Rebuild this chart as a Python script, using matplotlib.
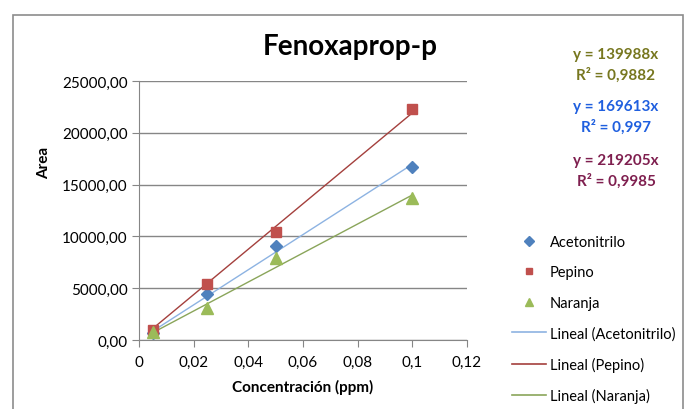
import matplotlib
matplotlib.use("Agg")
import matplotlib.pyplot as plt
import numpy as np
from matplotlib.ticker import FuncFormatter
from matplotlib.patches import Rectangle
from matplotlib.lines import Line2D

plt.rcParams['font.family'] = ['Lato', 'DejaVu Sans']

# Measured areas per concentration
conc = [0.005, 0.025, 0.05, 0.1]
acetonitrilo = [650, 4400, 9050, 16700]
pepino = [950, 5400, 10450, 22250]
naranja = [750, 3100, 7900, 13700]

# Trend-line slopes (forced through origin) and fit quality
slope_acet, r2_acet = 169613, "0,997"
slope_pep, r2_pep = 219205, "0,9985"
slope_nar, r2_nar = 139988, "0,9882"

x_ticks = [0, 0.02, 0.04, 0.06, 0.08, 0.1, 0.12]
y_ticks = [0, 5000, 10000, 15000, 20000, 25000]

fig = plt.figure(figsize=(6.86, 4.10), dpi=100)
fig.patch.set_facecolor("white")
fig.add_artist(Rectangle((13 / 686, -0.05), (683 - 13) / 686, 1.05 - 16 / 410,
                         transform=fig.transFigure, fill=False,
                         edgecolor="#8c8c8c", linewidth=1.2))

ax = fig.add_axes([139 / 686, 1 - 341 / 410, (467 - 139) / 686, (341 - 82) / 410])

c_acet, c_pep, c_nar = "#4F81BD", "#C0504D", "#9BBB59"
l_acet, l_pep, l_nar = "#8DB3E2", "#A4403D", "#8AA55A"

xf = np.array([conc[0], conc[-1]])
ax.plot(xf, slope_acet * xf, color=l_acet, lw=1.0, zorder=2)
ax.plot(xf, slope_pep * xf, color=l_pep, lw=1.0, zorder=2)
ax.plot(xf, slope_nar * xf, color=l_nar, lw=1.0, zorder=2)

ax.plot(conc, acetonitrilo, ls="none", marker="D", ms=6, color=c_acet, zorder=3)
ax.plot(conc, pepino, ls="none", marker="s", ms=7, color=c_pep, zorder=3)
ax.plot(conc, naranja, ls="none", marker="^", ms=8, color=c_nar, zorder=3)

ax.set_xlim(0, 0.12)
ax.set_ylim(0, 25000)
ax.set_xticks(x_ticks)
ax.set_yticks(y_ticks)
ax.xaxis.set_major_formatter(FuncFormatter(lambda v, p: ("%g" % round(v, 2)).replace(".", ",")))
ax.yaxis.set_major_formatter(FuncFormatter(lambda v, p: ("%.2f" % v).replace(".", ",")))
ax.grid(axis="y", color="#868686", lw=1.0)
ax.set_axisbelow(True)
for s in ["top", "right"]:
    ax.spines[s].set_visible(False)
ax.spines["left"].set_color("#868686")
ax.spines["bottom"].set_color("#868686")
ax.tick_params(axis="x", direction="out", length=5, color="#868686", labelsize=11, pad=6)
ax.tick_params(axis="y", direction="out", length=5, color="#868686", labelsize=11, pad=3)

fig.text(350 / 686, 1 - 47 / 410, "Fenoxaprop-p", ha="center", va="center",
         fontsize=20, fontweight="bold")
fig.text(44 / 686, 1 - 163 / 410, "Area", ha="center", va="center", rotation=90,
         fontsize=11, fontweight="bold")
fig.text(303 / 686, 1 - 387 / 410, "Concentración (ppm)", ha="center", va="center",
         fontsize=11, fontweight="bold")

eq_x = 616 / 686
for (k, r2, col, y1, y2) in [(slope_nar, r2_nar, "#77771F", 55, 75),
                             (slope_acet, r2_acet, "#1F5FDF", 107, 127),
                             (slope_pep, r2_pep, "#7F1F4F", 161, 181)]:
    fig.text(eq_x, 1 - y1 / 410, "y = %dx" % k, ha="center", va="center",
             fontsize=11, fontweight="bold", color=col)
    fig.text(eq_x, 1 - y2 / 410, "R² = %s" % r2, ha="center", va="center",
             fontsize=11, fontweight="bold", color=col)

# Legend entries
handles = [
    Line2D([], [], ls="none", marker="D", ms=5, color=c_acet),
    Line2D([], [], ls="none", marker="s", ms=5, color=c_pep),
    Line2D([], [], ls="none", marker="^", ms=6, color=c_nar),
    Line2D([], [], color=l_acet, lw=1.2),
    Line2D([], [], color=l_pep, lw=1.2),
    Line2D([], [], color=l_nar, lw=1.2),
]
labels = ["Acetonitrilo", "Pepino", "Naranja", "Lineal (Acetonitrilo)",
          "Lineal (Pepino)", "Lineal (Naranja)"]
fig.legend(handles, labels, loc="upper left", bbox_to_anchor=(512 / 686, 1 - 236 / 410),
           frameon=False, fontsize=10.5, handlelength=2.3, handletextpad=0.3,
           labelspacing=1.12, borderpad=0, borderaxespad=0)

fig.savefig("out.png", dpi=100, facecolor="white")
